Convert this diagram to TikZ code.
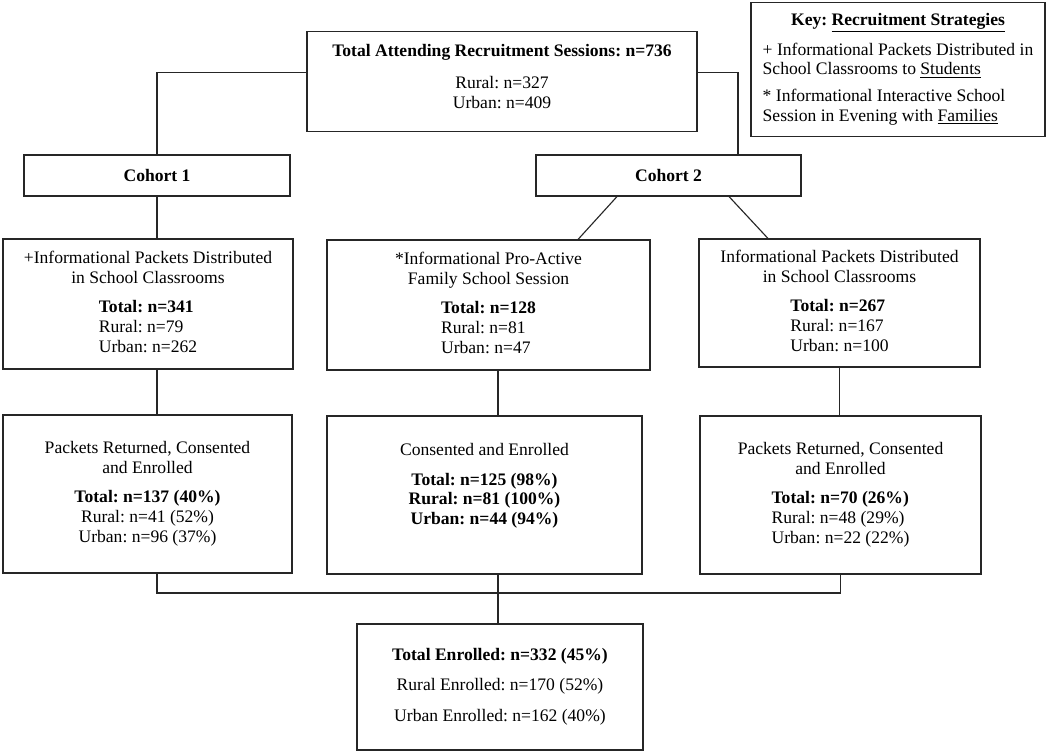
\documentclass[tikz,border=0pt]{standalone}
\usepackage{fontspec}
\setmainfont{Liberation Serif}
\frenchspacing

\begin{document}
\begin{tikzpicture}[
                x=0.025cm, y=-0.025cm,
                box/.style={draw=black!85, line width=0.8pt, inner sep=2pt, font=\fontsize{12.5}{14}\selectfont},
                link/.style={draw=black!85, line width=0.8pt}
            ]
\useasboundingbox (0,0) rectangle (1050,752);

% boxes
                \node[box, minimum width=9.75cm, minimum height=2.5cm] (top) at (502,81.5) {%
                    \begin{tabular}{@{}c@{}}
                    \textbf{Total Attending Recruitment Sessions: n=736}\\[9pt]
                    Rural: n=327\\
                    Urban: n=409\\[4pt]
                    \end{tabular}};
                \node[box, minimum width=7.35cm, minimum height=3.35cm] (key) at (898,69.5) {%
                    \begin{tabular}{@{}l@{}}
                    \multicolumn{1}{@{}c@{}}{\textbf{Key: \underline{Recruitment Strategies}}}\\[7pt]
                    + Informational Packets Distributed in\\
                    School Classrooms to \underline{Students}\\[5pt]
                    * Informational Interactive School\\
                    Session in Evening with \underline{Families}
                    \end{tabular}};

                \node[box, minimum width=6.65cm, minimum height=1.025cm] (c1) at (157,175.5) {\textbf{Cohort 1}};
                \node[box, minimum width=6.625cm, minimum height=1.025cm] (c2) at (668.5,175.5) {\textbf{Cohort 2}};

                \node[box, minimum width=7.25cm, minimum height=3.25cm] (pa) at (148,304) {%
                    \begin{tabular}{@{}c@{}}
                    +Informational Packets Distributed\\
                    in School Classrooms\\[7pt]
                    \begin{tabular}[t]{@{}l@{}}\textbf{Total: n=341}\\ Rural: n=79\\ Urban: n=262\end{tabular}
                    \end{tabular}};
                \node[box, minimum width=8.075cm, minimum height=3.25cm] (pb) at (488.5,305) {%
                    \begin{tabular}{@{}c@{}}
                    *Informational Pro-Active\\
                    Family School Session\\[7pt]
                    \begin{tabular}[t]{@{}l@{}}\textbf{Total: n=128}\\ Rural: n=81\\ Urban: n=47\end{tabular}
                    \end{tabular}};
                \node[box, minimum width=7.025cm, minimum height=3.2cm] (pc) at (839.5,303) {%
                    \begin{tabular}{@{}c@{}}
                    Informational Packets Distributed\\
                    in School Classrooms\\[7pt]
                    \begin{tabular}[t]{@{}l@{}}\textbf{Total: n=267}\\ Rural: n=167\\ Urban: n=100\end{tabular}
                    \end{tabular}};

                \node[box, minimum width=7.225cm, minimum height=3.95cm] (ra) at (147.5,494) {%
                    \begin{tabular}{@{}c@{}}
                    Packets Returned, Consented\\
                    and Enrolled\\[7pt]
                    \textbf{Total: n=137 (40\%)}\\
                    Rural: n=41 (52\%)\\
                    Urban: n=96 (37\%)
                    \end{tabular}};
                \node[box, minimum width=7.875cm, minimum height=3.95cm] (rb) at (484.5,495) {%
                    \begin{tabular}{@{}c@{}}
                    Consented and Enrolled\\[7pt]
                    \textbf{Total: n=125 (98\%)}\\
                    \textbf{Rural: n=81 (100\%)}\\
                    \textbf{Urban: n=44 (94\%)}\\[0.45cm]
                    \end{tabular}};
                \node[box, minimum width=7.025cm, minimum height=3.95cm] (rc) at (840.5,495) {%
                    \begin{tabular}{@{}c@{}}
                    Packets Returned, Consented\\
                    and Enrolled\\[7pt]
                    \begin{tabular}[t]{@{}l@{}}\textbf{Total: n=70 (26\%)}\\ Rural: n=48 (29\%)\\ Urban: n=22 (22\%)\end{tabular}
                    \end{tabular}};

                \node[box, minimum width=7.15cm, minimum height=3.15cm] (tot) at (500,687) {%
                    \begin{tabular}{@{}c@{}}
                    \textbf{Total Enrolled: n=332 (45\%)}\\[8pt]
                    Rural Enrolled: n=170 (52\%)\\[8pt]
                    Urban Enrolled: n=162 (40\%)
                    \end{tabular}};

% connectors
                \coordinate (mid) at (498,593);
                \draw[link] ([yshift=0.225cm]top.west) -| (c1.north);
                \draw[link] ([yshift=0.225cm]top.east) -| ([xshift=1.7375cm]c2.north);
                \draw[link] (c1.south) -- (c1.south |- pa.north);
                \draw[link] ([xshift=-1.2875cm]c2.south) -- ([xshift=2.2375cm]pb.north);
                \draw[link] ([xshift=1.5125cm]c2.south) -- ([xshift=-1.7875cm]pc.north);
                \draw[link] (c1.south |- pa.south) -- (c1.south |- ra.north);
                \draw[link] (mid |- pb.south) -- (mid |- rb.north);
                \draw[link] (pc.south) -- (pc.south |- rc.north);
                \draw[link] (c1.south |- ra.south) |- (mid) -| (rc.south);
                \draw[link] (mid |- rb.south) -- (mid |- tot.north);

            \end{tikzpicture}
\end{document}
